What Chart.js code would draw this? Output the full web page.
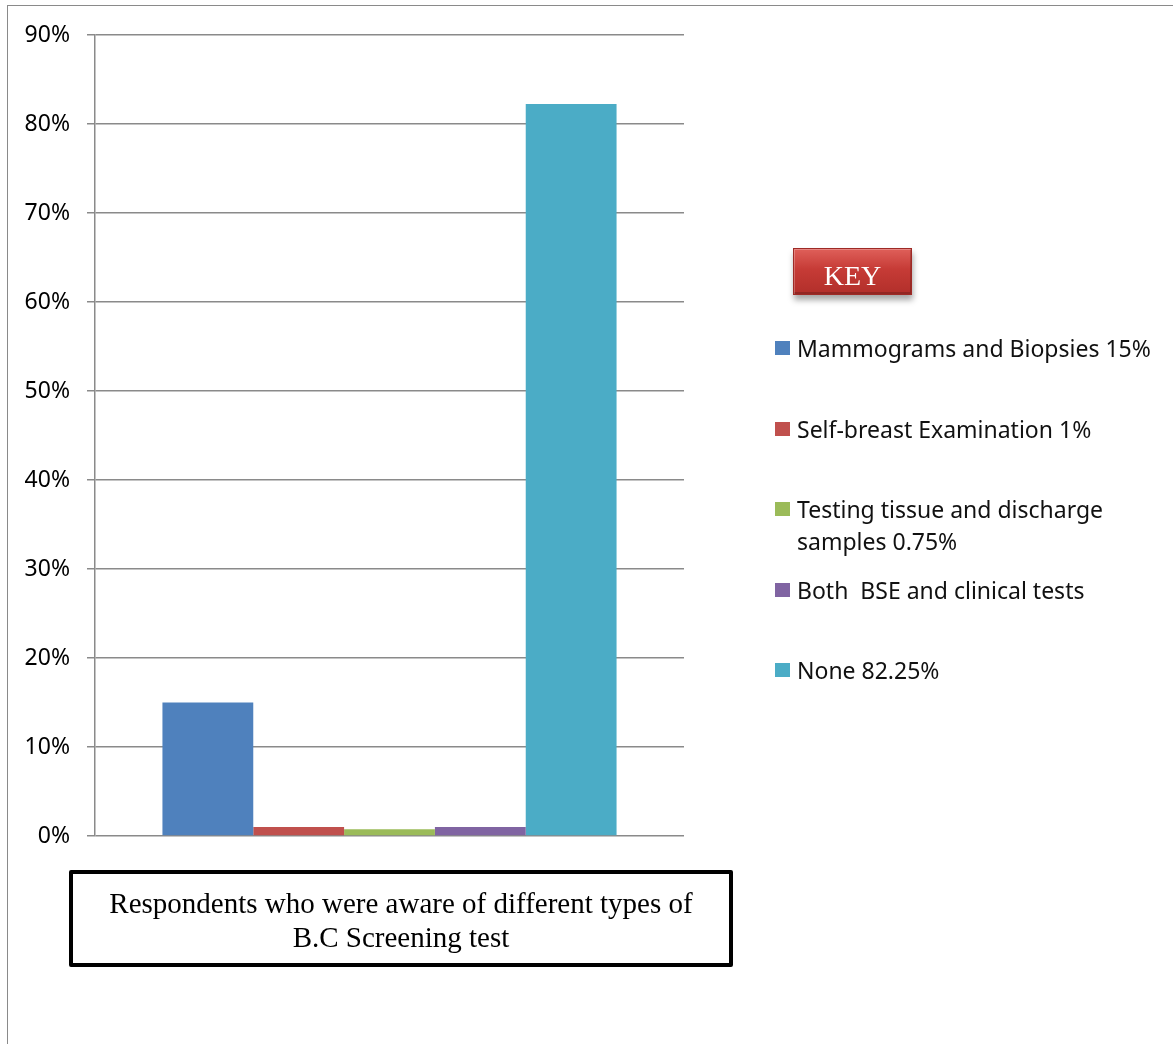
<!DOCTYPE html>
<html>
<head>
<meta charset="utf-8">
<script src="https://cdn.jsdelivr.net/npm/chart.js@4.4.1/dist/chart.umd.min.js"></script>
<style>
  html, body { margin: 0; padding: 0; background: #fff; }
  body { width: 1173px; height: 1044px; position: relative; overflow: hidden; }
  #frame { position: absolute; left: 7px; top: 5px; right: 0; bottom: -2px;
           border-left: 1.5px solid #8a8a8a; border-top: 1.5px solid #8a8a8a; }
  #c { position: absolute; left: 0; top: 0; }
  #key { position: absolute; left: 793px; top: 248px; width: 119px; height: 47px;
         background: linear-gradient(#e0615b, #c63b36 45%, #b12e2a);
         box-shadow: inset 0 0 0 1px #9e2a26, inset 2px 2px 0 rgba(255,255,255,0.25), inset -2px -3px 0 rgba(0,0,0,0.18), 1px 5px 6px rgba(0,0,0,0.35);
         color: #fff; font-family: "Liberation Serif", "Times New Roman", serif; font-size: 28px;
         display: flex; align-items: center; justify-content: center; line-height: 1; padding-top: 8px; box-sizing: border-box; }
  #legend { position: absolute; left: 775px; top: 0; width: 398px; }
  .item { position: absolute; left: 0; display: flex; align-items: flex-start;
          font-family: "Noto Sans", sans-serif; font-size: 23px; color: #111; line-height: 32px; }
  .sw { width: 15px; height: 14px; margin-top: 9px; margin-right: 7px; flex: none; }
  .txt { width: 362px; white-space: pre-wrap; }
  #titlebox { position: absolute; left: 69px; top: 870px; width: 664px; height: 97px; box-sizing: border-box;
              border: 4px solid #000; border-radius: 2px; text-align: center;
              font-family: "Liberation Serif", "Times New Roman", serif; font-size: 29px; line-height: 34px;
              padding-top: 12px; color: #000; }
</style>
</head>
<body>
<div id="frame"></div>
<canvas id="c" width="1173" height="1044"></canvas>
<div id="key">KEY</div>
<div id="legend"></div>
<div id="titlebox">Respondents who were aware of different types of<br>B.C Screening test</div>
<script>
const categories = [''];
const seriesLabels = [
  'Mammograms and Biopsies 15%',
  'Self-breast Examination 1%',
  'Testing tissue and discharge samples 0.75%',
  'Both  BSE and clinical tests',
  'None 82.25%'
];
const seriesValues = [15, 1, 0.75, 1, 82.25];
const seriesColors = ['#4f81bd', '#c0504d', '#9bbb59', '#8064a2', '#4bacc6'];
const yMin = 0, yMax = 90, yStep = 10;

const datasets = seriesLabels.map((lab, i) => ({
  label: lab,
  data: [seriesValues[i]],
  backgroundColor: seriesColors[i],
  borderWidth: 0
}));

const chart = new Chart(document.getElementById('c'), {
  type: 'bar',
  data: { labels: categories, datasets },
  options: {
    responsive: false,
    animation: false,
    events: [],
    layout: { padding: { left: 0, top: 35, right: 489, bottom: 208 } },
    datasets: { bar: { categoryPercentage: 0.771, barPercentage: 1.0 } },
    plugins: { legend: { display: false }, tooltip: { enabled: false }, title: { display: false } },
    scales: {
      x: { display: false },
      y: {
        min: yMin, max: yMax,
        afterFit: (s) => { s.width = 95; },
        ticks: {
          stepSize: yStep,
          padding: 17,
          color: '#000',
          font: { family: 'Noto Sans', size: 23 },
          callback: (v) => v + '%'
        },
        grid: { color: '#8a8a8a', lineWidth: 1.5, tickLength: 8, drawTicks: true },
        border: { color: '#8a8a8a', width: 1.5 }
      }
    }
  }
});

// HTML legend built from the chart's datasets
const legend = document.getElementById('legend');
chart.data.datasets.forEach((ds, i) => {
  const it = document.createElement('div');
  it.className = 'item';
  it.style.top = (332 + i * 80.5) + 'px';
  const sw = document.createElement('div');
  sw.className = 'sw';
  sw.style.background = ds.backgroundColor;
  const tx = document.createElement('div');
  tx.className = 'txt';
  tx.textContent = ds.label;
  it.appendChild(sw); it.appendChild(tx);
  legend.appendChild(it);
});
</script>
</body>
</html>
